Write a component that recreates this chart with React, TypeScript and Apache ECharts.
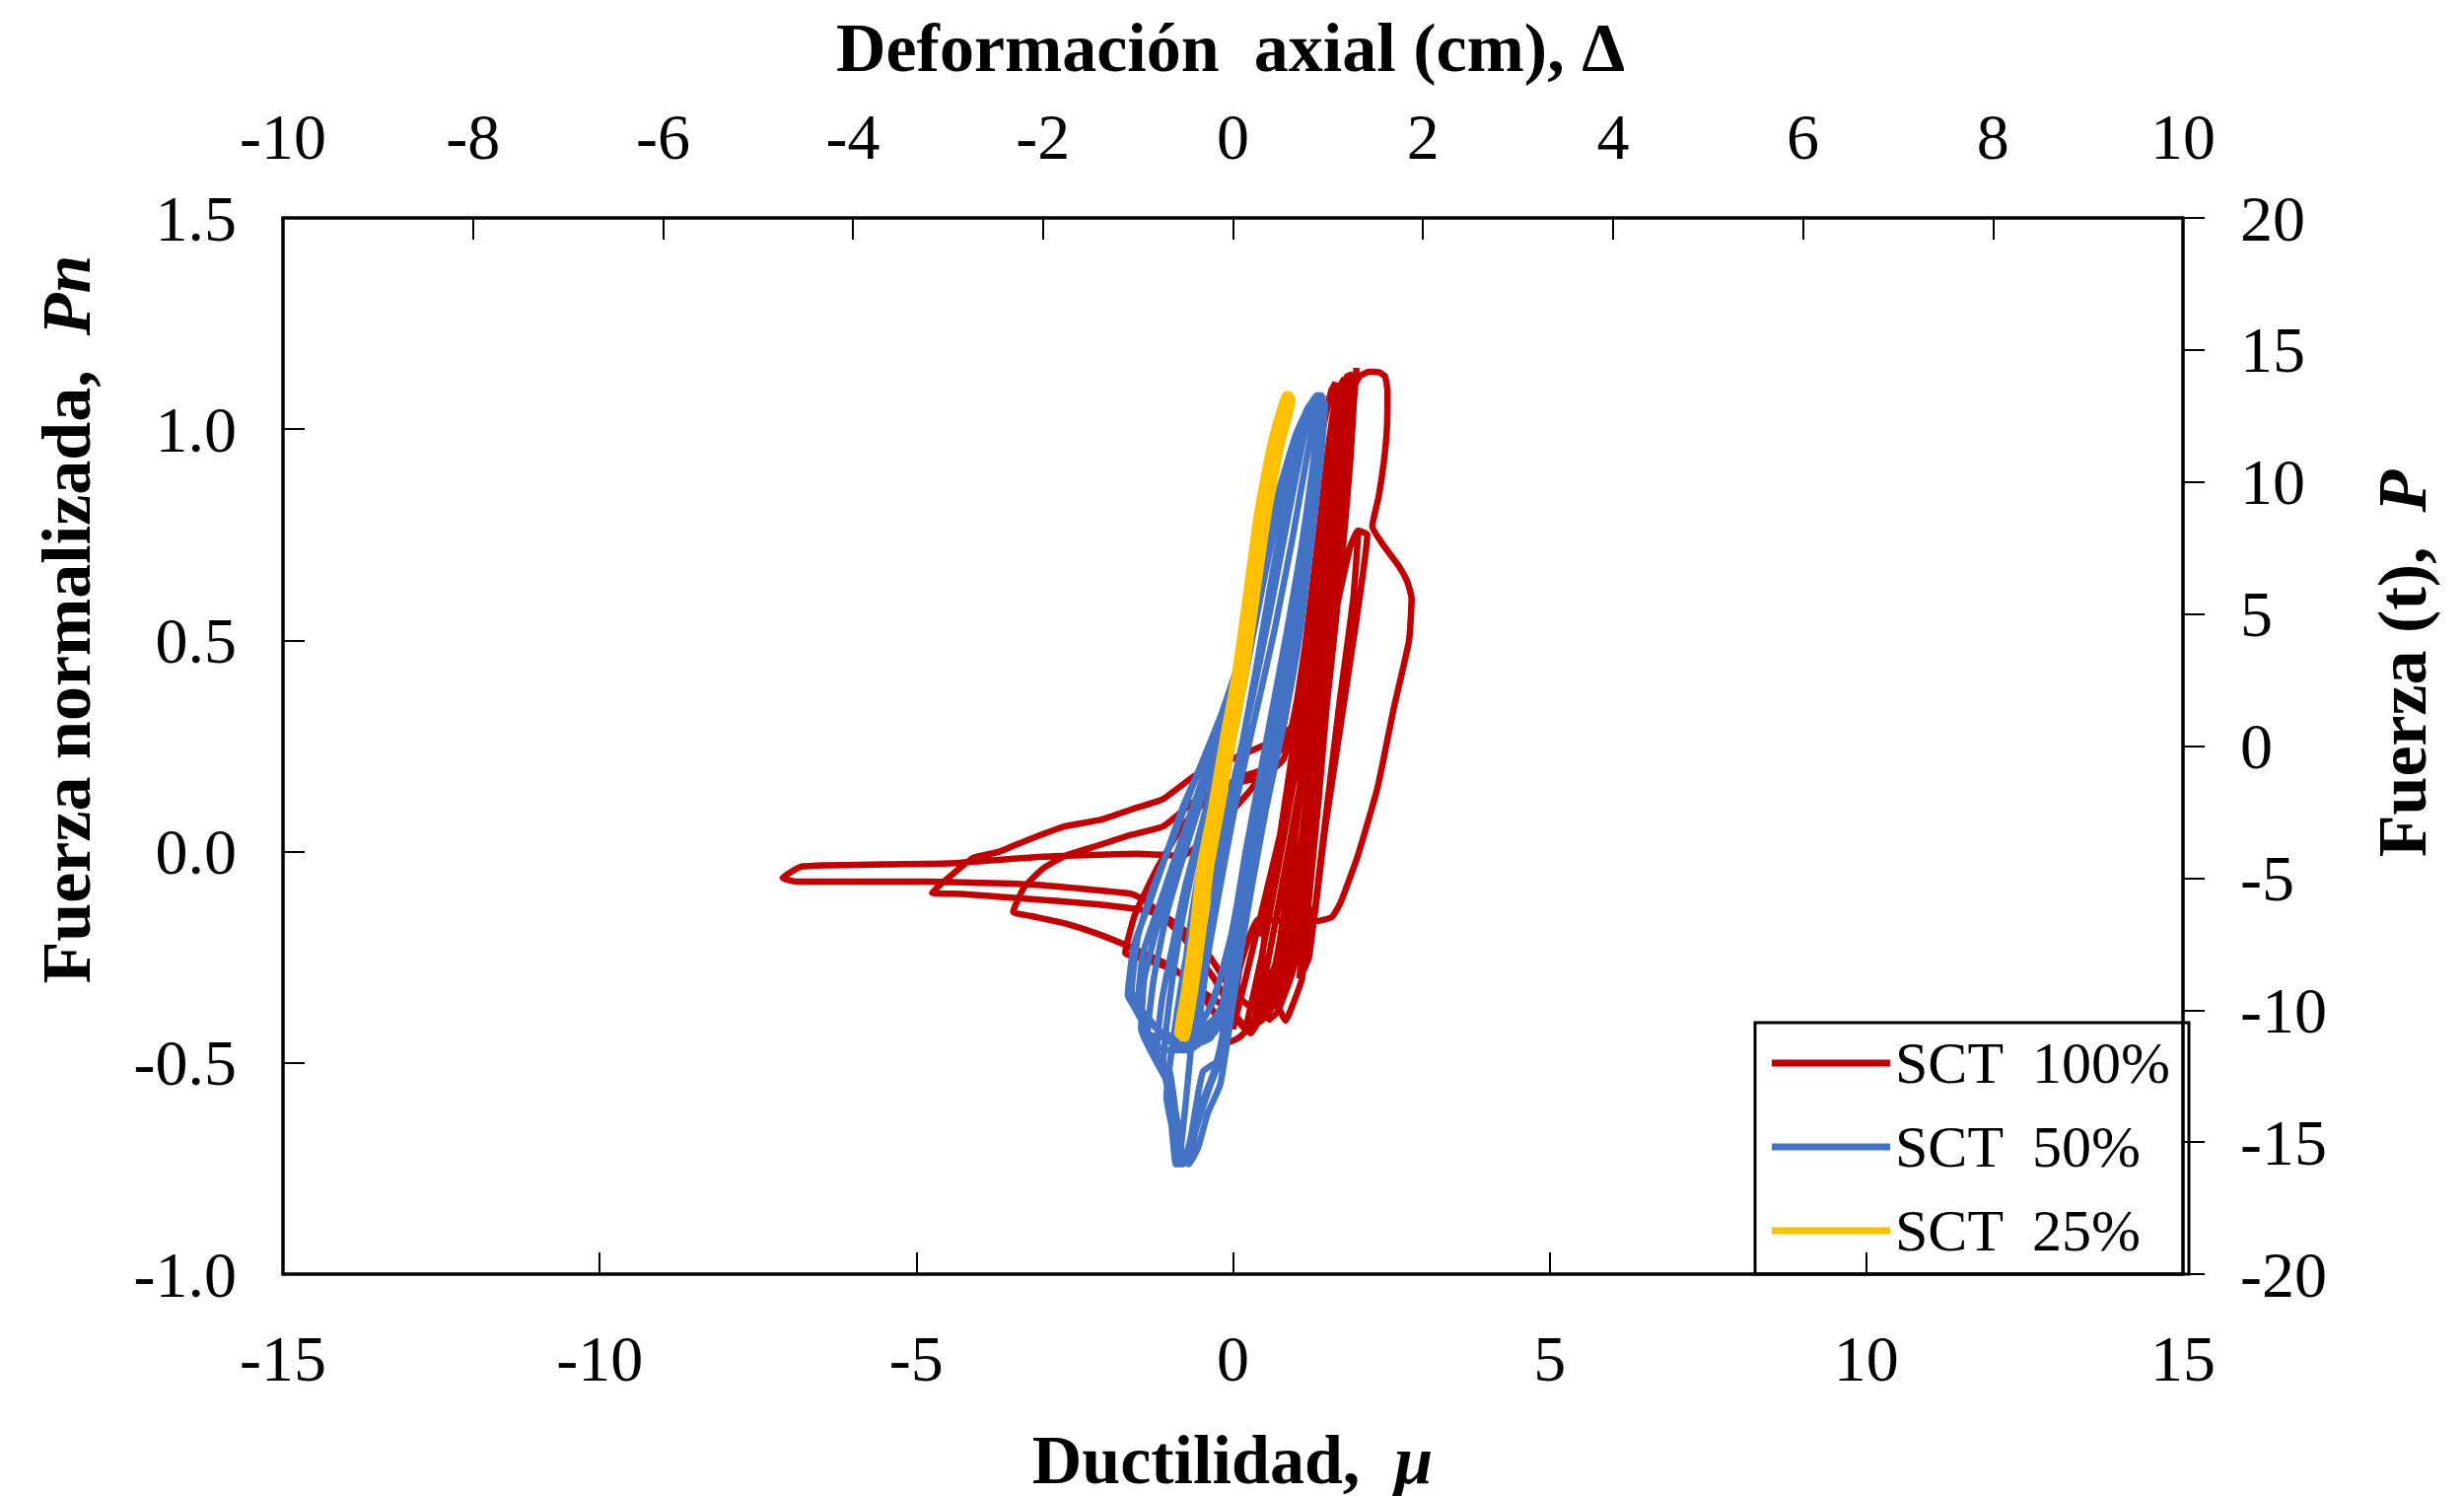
import React, { useEffect, useRef } from "react";
import * as echarts from "echarts";

const FONT = '"Liberation Serif", "Times New Roman", serif';

// Tick values
const ductTicks = { min: -15, max: 15, step: 5 };
const defTicks = { min: -10, max: 10, step: 2 };
const pnTicks = { min: -1, max: 1.5, step: 0.5 };
const forceTicks = { min: -20, max: 20, step: 5 };

const seriesNames = ["SCT  100%", "SCT  50%", "SCT  25%"];
const seriesColors = ["#C00000", "#4472C4", "#FFC000"];

// SCT 100% : [ductility mu, normalised force Pn]
const sct100: [number, number][] = [
  [0.4, -0.2],
  [0.7, 0.0], [0.95, 0.25], [1.15, 0.5], [1.35, 0.75], [1.5, 0.95], [1.62, 1.07], [1.7, 1.1],
  [1.62, 0.92], [1.45, 0.65], [1.25, 0.38], [1.05, 0.12], [0.85, -0.12], [0.62, -0.3], [0.35, -0.4], [0.1, -0.44], [-0.05, -0.45],
  [-0.3, -0.38], [-0.7, -0.3], [-1.1, -0.27], [-1.5, -0.25], [-1.7, -0.24],
  [-1.55, -0.15], [-1.2, -0.04], [-0.8, 0.06], [-0.3, 0.14], [0.2, 0.18], [0.55, 0.2],
  [0.8, 0.3], [1.05, 0.55], [1.25, 0.8], [1.42, 1.0], [1.55, 1.09], [1.62, 1.11],
  [1.55, 0.9], [1.38, 0.62], [1.2, 0.35], [1.0, 0.08], [0.78, -0.18], [0.55, -0.35], [0.28, -0.43],
  [0.0, -0.38], [-0.5, -0.33], [-1.0, -0.27], [-1.56, -0.23], [-2.13, -0.195], [-2.65, -0.17], [-3.2, -0.152], [-3.47, -0.143],
  [-3.3, -0.085], [-3.0, -0.04], [-2.65, -0.01], [-2.1, 0.016], [-1.6, 0.04], [-1.1, 0.06], [-0.6, 0.12], [0.0, 0.16], [0.5, 0.18], [0.8, 0.22],
  [1.0, 0.35], [1.2, 0.55], [1.4, 0.8], [1.55, 1.0], [1.68, 1.1], [1.76, 1.12],
  [1.68, 0.92], [1.5, 0.62], [1.3, 0.32], [1.1, 0.05], [0.85, -0.2], [0.6, -0.33], [0.35, -0.4],
  [0.5, -0.2], [0.7, 0.0], [0.92, 0.2], [1.15, 0.45], [1.38, 0.7], [1.55, 0.92], [1.65, 1.06], [1.72, 1.1],
  [1.62, 0.85], [1.45, 0.55], [1.25, 0.25], [1.05, -0.02], [0.8, -0.25], [0.55, -0.36], [0.4, -0.38],
  [0.0, -0.33], [-0.5, -0.22], [-1.0, -0.16], [-1.35, -0.14], [-2.1, -0.125], [-3.4, -0.11], [-4.3, -0.1], [-4.75, -0.097],
  [-4.4, -0.05], [-4.1, -0.015], [-3.69, 0.0], [-3.2, 0.03], [-2.65, 0.06], [-2.1, 0.075], [-1.6, 0.1], [-1.1, 0.125], [-0.6, 0.18], [0.0, 0.22], [0.6, 0.26], [0.95, 0.3],
  [1.2, 0.52], [1.4, 0.75], [1.55, 0.95], [1.68, 1.08], [1.8, 1.125], [1.88, 1.13],
  [1.78, 0.9], [1.55, 0.55], [1.3, 0.2], [1.05, -0.08], [0.8, -0.22], [0.57, -0.31], [0.7, -0.36], [0.83, -0.4],
  [0.95, -0.36], [1.09, -0.3], [1.2, -0.11], [1.35, 0.12], [1.5, 0.38], [1.65, 0.6], [1.8, 0.85], [1.9, 1.05], [1.95, 1.145],
  [1.85, 0.95], [1.65, 0.62], [1.45, 0.3], [1.22, 0.0], [1.0, -0.22], [0.7, -0.35], [0.45, -0.4], [0.2, -0.42],
  [0.45, -0.25], [0.7, -0.05], [1.0, 0.2], [1.3, 0.5], [1.5, 0.75], [1.65, 0.95], [1.75, 1.08], [1.82, 1.12],
  [1.75, 0.95], [1.6, 0.7], [1.42, 0.45], [1.22, 0.18], [1.0, -0.08], [0.75, -0.28], [0.5, -0.38], [0.3, -0.42],
  [0.5, -0.3], [0.75, -0.1], [1.05, 0.15], [1.35, 0.45], [1.58, 0.72], [1.72, 0.92], [1.82, 1.06], [1.9, 1.12],
  [1.82, 0.95], [1.68, 0.72], [1.5, 0.45], [1.3, 0.18], [1.1, -0.08], [0.9, -0.26], [0.65, -0.36], [0.4, -0.4], [0.2, -0.42],
  [-0.3, -0.3], [-0.8, -0.2], [-1.35, -0.12], [-1.6, -0.1], [-3.16, -0.078], [-4.85, -0.071], [-6.9, -0.071], [-7.11, -0.062],
  [-6.8, -0.035], [-5.5, -0.03], [-4.5, -0.028], [-3.0, -0.012], [-1.5, -0.005], [-0.8, -0.01], [-0.3, 0.05], [0.3, 0.15], [0.9, 0.28],
  [1.2, 0.5], [1.45, 0.75], [1.65, 0.95], [1.85, 1.08], [2.0, 1.125], [2.15, 1.136], [2.3, 1.135], [2.4, 1.125], [2.44, 1.09], [2.43, 1.0], [2.38, 0.92], [2.3, 0.84], [2.2, 0.77],
  [2.4, 0.72], [2.6, 0.68], [2.75, 0.64], [2.82, 0.6], [2.78, 0.5], [2.54, 0.34], [2.28, 0.15], [1.97, -0.01], [1.7, -0.12], [1.56, -0.155], [1.3, -0.165], [0.9, -0.165], [0.4, -0.16],
  [0.1, -0.28], [0.0, -0.42], [0.2, -0.3], [0.6, -0.05], [1.0, 0.2], [1.35, 0.43], [1.7, 0.65], [1.97, 0.76], [2.12, 0.75],
  [1.95, 0.55], [1.7, 0.3], [1.45, 0.05], [1.25, -0.18], [1.1, 0.0], [1.3, 0.25], [1.6, 0.55], [1.85, 0.72], [1.98, 0.76],
  [1.9, 0.6], [1.68, 0.35], [1.4, 0.0], [1.2, -0.25], [1.05, -0.3],
  [1.2, -0.05], [1.38, 0.2], [1.55, 0.45], [1.7, 0.7], [1.8, 0.9], [1.88, 1.05], [1.93, 1.12],
  [1.85, 0.92], [1.7, 0.66], [1.52, 0.4], [1.32, 0.14], [1.12, -0.1], [0.95, -0.28], [0.7, -0.38], [0.55, -0.4],
  [0.75, -0.2], [0.98, 0.05], [1.2, 0.3], [1.42, 0.58], [1.6, 0.82], [1.72, 1.0], [1.8, 1.1],
  [1.7, 0.88], [1.52, 0.58], [1.32, 0.3], [1.12, 0.02], [0.92, -0.2], [0.7, -0.32],
];

// SCT 50%
const sct50: [number, number][] = [
  [-0.3, 0.12], [0.0, 0.3], [0.4, 0.58], [0.75, 0.83], [1.05, 1.0], [1.32, 1.08],
  [1.45, 1.06], [1.4, 0.95], [1.25, 0.75], [1.04, 0.5], [0.8, 0.3], [0.52, 0.1], [0.3, -0.08], [0.12, -0.24], [0.0, -0.35], [-0.3, -0.43], [-0.6, -0.45],
  [-0.45, -0.3], [-0.3, -0.12], [-0.12, 0.05], [0.1, 0.22], [0.45, 0.5], [0.85, 0.82], [1.15, 1.02], [1.42, 1.08],
  [1.4, 1.05], [1.3, 0.88], [1.12, 0.65], [0.9, 0.45], [0.62, 0.22], [0.35, 0.0], [0.15, -0.17], [-0.05, -0.33], [-0.4, -0.42], [-0.7, -0.45], [-0.9, -0.46],
  [-0.8, -0.33], [-0.68, -0.18], [-0.5, -0.02], [-0.3, 0.12], [0.0, 0.3], [0.4, 0.58], [0.75, 0.83], [1.05, 1.0], [1.32, 1.08],
  [1.35, 1.04], [1.22, 0.84], [1.02, 0.6], [0.78, 0.4], [0.5, 0.18], [0.22, -0.04], [0.0, -0.22], [-0.2, -0.38], [-0.6, -0.43], [-1.0, -0.44], [-1.35, -0.43],
  [-1.25, -0.3], [-1.05, -0.15], [-0.8, -0.02], [-0.55, 0.1], [-0.3, 0.22], [0.0, 0.37], [0.35, 0.56], [0.7, 0.8], [1.0, 0.97], [1.25, 1.06], [1.4, 1.08],
  [1.42, 1.05], [1.32, 0.9], [1.15, 0.68], [0.95, 0.5], [0.68, 0.28], [0.42, 0.06], [0.2, -0.14], [0.05, -0.3], [-0.2, -0.49], [-0.47, -0.52], [-0.57, -0.59], [-0.67, -0.68], [-0.8, -0.74], [-0.9, -0.74], [-0.95, -0.68], [-1.0, -0.6], [-1.09, -0.52], [-1.3, -0.44], [-1.55, -0.37], [-1.66, -0.34],
  [-1.56, -0.22], [-1.29, -0.11], [-1.04, 0.0], [-0.78, 0.11], [-0.52, 0.2], [-0.16, 0.335], [0.2, 0.5], [0.55, 0.72], [0.9, 0.92], [1.15, 1.03], [1.35, 1.08],
  [1.45, 1.06], [1.38, 0.92], [1.22, 0.72], [1.0, 0.5], [0.75, 0.3], [0.48, 0.08], [0.25, -0.1], [0.08, -0.28], [-0.1, -0.45], [-0.35, -0.55], [-0.55, -0.64], [-0.7, -0.72], [-0.82, -0.74], [-0.88, -0.7], [-0.92, -0.6], [-1.0, -0.52], [-1.1, -0.5],
  [-1.0, -0.35], [-0.85, -0.2], [-0.65, -0.05], [-0.45, 0.08], [-0.2, 0.22], [0.1, 0.4], [0.45, 0.62], [0.8, 0.86], [1.1, 1.02], [1.38, 1.08],
  [1.4, 1.04], [1.28, 0.86], [1.08, 0.63], [0.85, 0.43], [0.58, 0.2], [0.3, -0.02], [0.1, -0.2], [-0.08, -0.36], [-0.25, -0.5], [-0.45, -0.58], [-0.6, -0.66], [-0.75, -0.73], [-0.85, -0.74],
  [-0.75, -0.6], [-0.65, -0.45], [-0.5, -0.3], [-0.3, -0.12], [-0.1, 0.05], [0.1, 0.2], [0.35, 0.42], [0.65, 0.68], [0.95, 0.9], [1.2, 1.03], [1.36, 1.08],
  [1.38, 1.03], [1.25, 0.82], [1.05, 0.58], [0.8, 0.38], [0.55, 0.16], [0.3, -0.05], [0.08, -0.22], [-0.15, -0.38], [-0.5, -0.43], [-0.9, -0.44], [-1.2, -0.42], [-1.45, -0.38], [-1.6, -0.33],
  [-1.5, -0.2], [-1.25, -0.08], [-0.95, 0.03], [-0.65, 0.15], [-0.3, 0.28], [0.05, 0.42], [0.4, 0.62], [0.75, 0.85], [1.05, 1.0], [1.3, 1.07],
  [1.44, 1.06], [1.36, 0.9], [1.2, 0.7], [0.98, 0.5], [0.72, 0.28], [0.45, 0.05], [0.22, -0.14], [0.02, -0.3], [-0.3, -0.42], [-0.7, -0.47], [-1.0, -0.47], [-1.2, -0.46],
  [-1.12, -0.35], [-0.95, -0.22], [-0.75, -0.08], [-0.5, 0.06], [-0.25, 0.2], [0.05, 0.36], [0.3, 0.52], [0.6, 0.74], [0.9, 0.94], [1.18, 1.05], [1.38, 1.08],
  [1.42, 1.04], [1.3, 0.86], [1.1, 0.62], [0.88, 0.44], [0.6, 0.2], [0.35, -0.02], [0.15, -0.2], [-0.02, -0.38], [-0.2, -0.55], [-0.4, -0.62], [-0.55, -0.7], [-0.7, -0.74], [-0.8, -0.72], [-0.9, -0.62], [-1.02, -0.55], [-1.2, -0.5], [-1.45, -0.42],
  [-1.4, -0.3], [-1.2, -0.18], [-0.95, -0.06], [-0.7, 0.06], [-0.42, 0.18], [-0.1, 0.32], [0.25, 0.52], [0.6, 0.76], [0.95, 0.96], [1.2, 1.05], [1.4, 1.08],
  [1.4, 1.06], [1.34, 0.93], [1.18, 0.74], [0.96, 0.53], [0.7, 0.32], [0.42, 0.1], [0.2, -0.08], [0.05, -0.24], [-0.1, -0.4], [-0.3, -0.52], [-0.5, -0.6], [-0.65, -0.7], [-0.78, -0.74], [-0.95, -0.66], [-1.05, -0.58],
  [-0.95, -0.45], [-0.8, -0.3], [-0.6, -0.14], [-0.4, 0.0], [-0.2, 0.14], [0.05, 0.3], [0.3, 0.5], [0.62, 0.74], [0.92, 0.93], [1.18, 1.04], [1.34, 1.08],
  [1.38, 1.05], [1.3, 0.9], [1.15, 0.72], [0.92, 0.5], [0.66, 0.28], [0.38, 0.05], [0.15, -0.15], [-0.05, -0.32], [-0.35, -0.44], [-0.7, -0.46], [-1.0, -0.45], [-1.3, -0.4], [-1.5, -0.36],
  [-1.42, -0.24], [-1.15, -0.12], [-0.88, 0.0], [-0.6, 0.12], [-0.3, 0.25], [0.0, 0.38], [0.35, 0.6], [0.7, 0.84], [1.0, 0.99], [1.28, 1.07],
  [1.36, 1.06], [1.25, 0.9], [1.08, 0.72], [0.85, 0.52], [0.6, 0.32], [0.35, 0.12], [0.12, -0.08], [-0.1, -0.25], [-0.4, -0.38], [-0.75, -0.42],
  [-0.62, -0.3], [-0.45, -0.15], [-0.25, 0.0], [0.0, 0.16], [0.3, 0.36], [0.6, 0.58], [0.88, 0.8], [1.12, 0.98], [1.33, 1.08],
  [1.4, 1.05], [1.28, 0.9], [1.1, 0.7], [0.9, 0.55], [0.7, 0.4], [0.45, 0.2], [0.2, 0.0], [0.0, -0.18], [-0.3, -0.35], [-0.55, -0.42],
  [-0.4, -0.25], [-0.2, -0.08], [0.05, 0.12], [0.35, 0.32], [0.65, 0.52], [0.95, 0.75], [1.15, 0.92], [1.3, 1.03], [1.4, 1.07],
];

// SCT 25%
const sct25: [number, number][] = [
  [-0.82, -0.44], [-0.7, -0.33], [-0.58, -0.2], [-0.45, -0.03], [-0.28, 0.1], [-0.1, 0.26], [0.1, 0.42], [0.27, 0.6], [0.45, 0.8], [0.67, 0.97], [0.88, 1.08],
  [0.92, 1.07], [0.74, 0.96], [0.52, 0.78], [0.35, 0.6], [0.18, 0.42], [-0.02, 0.26], [-0.2, 0.1], [-0.36, -0.03], [-0.5, -0.2], [-0.62, -0.33], [-0.76, -0.44],
  [-0.86, -0.43], [-0.75, -0.33], [-0.63, -0.2], [-0.5, -0.03], [-0.33, 0.1], [-0.15, 0.26], [0.05, 0.42], [0.22, 0.6], [0.4, 0.8], [0.62, 0.97], [0.85, 1.08],
  [0.88, 1.06], [0.7, 0.96], [0.49, 0.78], [0.31, 0.6], [0.14, 0.42], [-0.06, 0.26], [-0.24, 0.1], [-0.4, -0.03], [-0.54, -0.2], [-0.66, -0.33], [-0.8, -0.44],
];

const fmtPn = (v: number) => v.toFixed(1);

export default function App() {
  const ref = useRef<HTMLDivElement>(null);
  useEffect(() => {
    if (!ref.current) return;
    const chart = echarts.init(ref.current, null, { renderer: "svg" });
    const axisLine = { show: true, onZero: false, lineStyle: { color: "#000", width: 3.5 } };
    const tickStyle = { color: "#000", width: 2 };
    const labelStyle = { fontFamily: FONT, fontSize: 66, color: "#000" };
    const data = [sct100, sct50, sct25];
    const widths = [6.5, 6.5, 9];
    chart.setOption({
      animation: false,
      backgroundColor: "#ffffff",
      grid: { left: 287, top: 221, width: 1927, height: 1071, containLabel: false },
      xAxis: [
        {
          type: "value", position: "bottom", min: ductTicks.min, max: ductTicks.max, interval: ductTicks.step,
          axisLine, axisTick: { show: true, inside: true, length: 22, lineStyle: tickStyle },
          axisLabel: { ...labelStyle, margin: 52 }, splitLine: { show: false },
        },
        {
          type: "value", position: "top", min: defTicks.min, max: defTicks.max, interval: defTicks.step,
          axisLine, axisTick: { show: true, inside: true, length: 22, lineStyle: tickStyle },
          axisLabel: { ...labelStyle, margin: 50 }, splitLine: { show: false },
        },
      ],
      yAxis: [
        {
          type: "value", position: "left", min: pnTicks.min, max: pnTicks.max, interval: pnTicks.step,
          axisLine, axisTick: { show: true, inside: true, length: 22, lineStyle: tickStyle },
          axisLabel: { ...labelStyle, margin: 47, formatter: fmtPn }, splitLine: { show: false },
        },
        {
          type: "value", position: "right", min: forceTicks.min, max: forceTicks.max, interval: forceTicks.step,
          axisLine, axisTick: { show: true, inside: false, length: 22, lineStyle: tickStyle },
          axisLabel: { ...labelStyle, margin: 58 }, splitLine: { show: false },
        },
      ],
      legend: {
        orient: "vertical", left: 1780, top: 1037,
        data: seriesNames, icon: "rect", itemWidth: 120, itemHeight: 7, itemGap: 25,
        padding: [11, 18, 14, 17], borderColor: "#000", borderWidth: 3,
        textStyle: { fontFamily: FONT, fontSize: 60, color: "#000" },
      },
      series: seriesNames.map((name, i) => ({
        name, type: "line", xAxisIndex: 0, yAxisIndex: 0, data: data[i],
        showSymbol: false, symbol: "none", smooth: 0.15,
        lineStyle: { color: seriesColors[i], width: widths[i] }, itemStyle: { color: seriesColors[i] },
      })),
      graphic: [
        {
          type: "text", x: 1248, y: 48,
          style: { text: "Deformación  axial (cm), Δ", fontFamily: FONT, fontSize: 70, fontWeight: "bold", fill: "#000", align: "center", verticalAlign: "middle" },
        },
        {
          type: "text", x: 1250, y: 1480,
          style: {
            text: "{a|Ductilidad,  }{b|μ}", fill: "#000", align: "center", verticalAlign: "middle",
            rich: {
              a: { fontFamily: FONT, fontSize: 70, fontWeight: "bold" },
              b: { fontFamily: FONT, fontSize: 70, fontWeight: "bold", fontStyle: "italic" },
            },
          },
        },
        {
          type: "text", x: 67, y: 628, rotation: Math.PI / 2,
          style: {
            text: "{a|Fuerza normalizada,  }{b|Pn}", fill: "#000", align: "center", verticalAlign: "middle",
            rich: {
              a: { fontFamily: FONT, fontSize: 70, fontWeight: "bold" },
              b: { fontFamily: FONT, fontSize: 70, fontWeight: "bold", fontStyle: "italic" },
            },
          },
        },
        {
          type: "text", x: 2436, y: 673, rotation: Math.PI / 2,
          style: {
            text: "{a|Fuerza (t),  }{b|P}", fill: "#000", align: "center", verticalAlign: "middle",
            rich: {
              a: { fontFamily: FONT, fontSize: 70, fontWeight: "bold" },
              b: { fontFamily: FONT, fontSize: 70, fontWeight: "bold", fontStyle: "italic" },
            },
          },
        },
      ],
    });
    return () => chart.dispose();
  }, []);
  return <div ref={ref} style={{ position: "fixed", left: 0, top: 0, width: 2499, height: 1517, background: "#fff" }} />;
}
